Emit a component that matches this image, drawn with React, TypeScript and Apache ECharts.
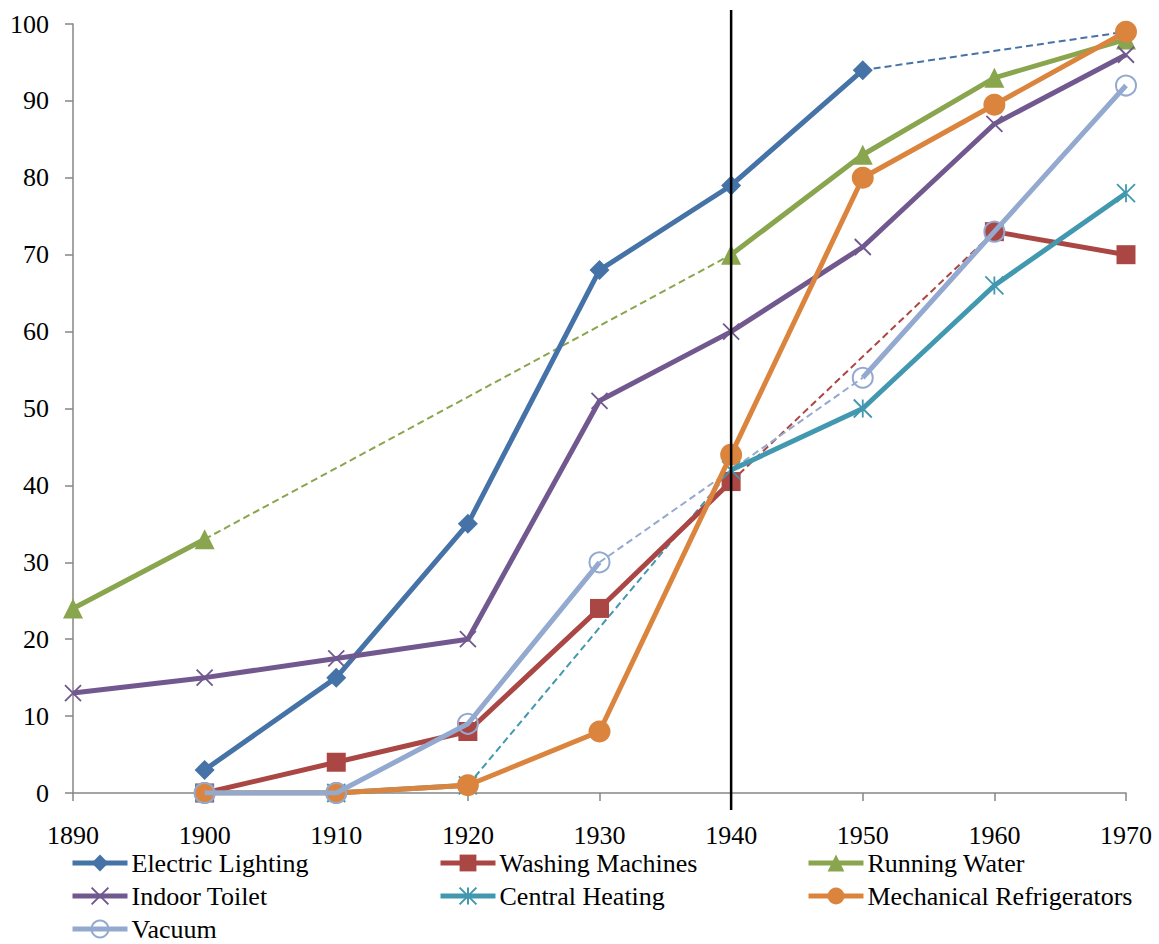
import React, { useEffect, useRef } from "react";
import * as echarts from "echarts";

const years = [1890, 1900, 1910, 1920, 1930, 1940, 1950, 1960, 1970];

const electricLighting = [null, 3, 15, 35, 68, 79, 94, null, 99];
const electricLightingGap = [null, null, null, null, null, null, 94, null, 99];
const washingMachines = [null, 0, 4, 8, 24, 40.5, null, 73, 70];
const washingMachinesGap = [null, null, null, null, null, 40.5, null, 73, null];
const runningWater = [24, 33, null, null, null, 70, 83, 93, 98];
const runningWaterGap = [null, 33, null, null, null, 70, null, null, null];
const indoorToilet = [13, 15, 17.5, 20, 51, 60, 71, 87, 96];
const centralHeating = [null, 0, 0, 1, null, 42, 50, 66, 78];
const centralHeatingGap = [null, null, null, 1, null, 42, null, null, null];
const refrigerators = [null, 0, 0, 1, 8, 44, 80, 89.5, 99];
const vacuum = [null, 0, 0, 9, 30, null, 54, 73, 92];
const vacuumGap = [null, null, null, null, 30, null, 54, null, null];

const yTicks = [0, 10, 20, 30, 40, 50, 60, 70, 80, 90, 100];
const markerYear = 1940;

const FONT = "'Liberation Serif', 'Times New Roman', serif";
const FS = 26;

const pairs = (vals: (number | null)[]) => years.map((y, i) => [y, vals[i]]);

const CROSS = "path://M0,0L10,10M10,0L0,10";
const STAR = "path://M5,0L5,10M0,0L10,10M10,0L0,10";

type Def = {
  name: string;
  data: (number | null)[];
  gap?: (number | null)[];
  color: string;
  symbol: string;
  size: number;
  hollow?: boolean;
  stroke?: boolean;
};

const defs: Def[] = [
  { name: "Electric Lighting", data: electricLighting, gap: electricLightingGap, color: "#4572A7", symbol: "diamond", size: 20 },
  { name: "Washing Machines", data: washingMachines, gap: washingMachinesGap, color: "#AA4643", symbol: "rect", size: 19 },
  { name: "Running Water", data: runningWater, gap: runningWaterGap, color: "#89A54E", symbol: "triangle", size: 20 },
  { name: "Indoor Toilet", data: indoorToilet, color: "#71588F", symbol: CROSS, size: 16, stroke: true },
  { name: "Central Heating", data: centralHeating, gap: centralHeatingGap, color: "#4198AF", symbol: STAR, size: 18, stroke: true },
  { name: "Mechanical Refrigerators", data: refrigerators, color: "#DB843D", symbol: "circle", size: 22 },
  { name: "Vacuum", data: vacuum, gap: vacuumGap, color: "#93A9CF", symbol: "circle", size: 20, hollow: true },
];

export default function App() {
  const ref = useRef<HTMLDivElement>(null);
  useEffect(() => {
    if (!ref.current) return;
    const chart = echarts.init(ref.current, undefined, { renderer: "svg" });
    const series: any[] = [];
    defs.forEach((d) => {
      if (d.gap) {
        series.push({
          name: d.name + " (gap)",
          type: "line",
          data: pairs(d.gap),
          connectNulls: true,
          showSymbol: false,
          symbol: "none",
          silent: true,
          lineStyle: { color: d.color, width: 2, type: [7, 4] },
          itemStyle: { color: d.color },
          z: 2,
        });
      }
    });
    defs.forEach((d, i) => {
      let itemStyle: any;
      if (d.hollow) {
        itemStyle = { color: "rgba(255,255,255,0)", borderColor: d.color, borderWidth: 2 };
      } else if (d.stroke) {
        itemStyle = { color: d.color, borderColor: d.color, borderWidth: 1.8 };
      } else {
        itemStyle = { color: d.color, borderColor: d.color, borderWidth: 0 };
      }
      series.push({
        name: d.name,
        type: "line",
        data: pairs(d.data),
        connectNulls: false,
        symbol: d.symbol,
        symbolSize: d.size,
        showAllSymbol: true,
        lineStyle: { color: d.color, width: 5 },
        itemStyle,
        z: 3 + i,
      });
    });
    series.push({
      name: "marker",
      type: "custom",
      data: [[markerYear, 0]],
      clip: false,
      silent: true,
      z: 20,
      renderItem: (_p: any, api: any) => {
        const top = api.coord([markerYear, 100]);
        const bot = api.coord([markerYear, 0]);
        return {
          type: "line",
          shape: { x1: top[0], y1: top[1] - 14, x2: bot[0], y2: bot[1] + 17 },
          style: { stroke: "#000000", lineWidth: 2.5 },
        };
      },
    });

    const legendPos = [
      { left: 70, top: 850 },
      { left: 438, top: 850 },
      { left: 806, top: 850 },
      { left: 70, top: 883 },
      { left: 438, top: 883 },
      { left: 806, top: 883 },
      { left: 70, top: 916 },
    ];
    const legend = defs.map((d, i) => ({
      data: [d.name],
      left: legendPos[i].left,
      top: legendPos[i].top,
      orient: "horizontal",
      itemWidth: 55,
      itemHeight: 21,
      padding: 0,
      selectedMode: false,
      lineStyle: { width: 5 },
      textStyle: { fontFamily: FONT, fontSize: FS, color: "#000000", padding: [0, 0, 0, -1] },
    }));

    chart.setOption({
      animation: false,
      backgroundColor: "#ffffff",
      textStyle: { fontFamily: FONT },
      grid: { left: 73, right: 33, top: 24, bottom: 151, containLabel: false },
      legend,
      xAxis: {
        type: "value",
        min: years[0],
        max: years[years.length - 1],
        interval: 10,
        splitLine: { show: false },
        axisLine: { show: true, onZero: false, lineStyle: { color: "#868686", width: 1.5 } },
        axisTick: { show: true, length: 8, lineStyle: { color: "#868686", width: 1.5 } },
        axisLabel: {
          fontFamily: FONT,
          fontSize: FS,
          color: "#000000",
          margin: 29,
          formatter: (v: number) => String(v),
        },
      },
      yAxis: {
        type: "value",
        min: yTicks[0],
        max: yTicks[yTicks.length - 1],
        interval: 10,
        splitLine: { show: false },
        axisLine: { show: true, lineStyle: { color: "#868686", width: 1.5 } },
        axisTick: { show: true, length: 8, lineStyle: { color: "#868686", width: 1.5 } },
        axisLabel: {
          fontFamily: FONT,
          fontSize: FS,
          color: "#000000",
          margin: 24,
          formatter: (v: number) => String(v),
        },
      },
      series,
    });
    return () => chart.dispose();
  }, []);
  return (
    <div
      ref={ref}
      style={{ position: "fixed", left: 0, top: 0, width: 1159, height: 944, background: "#fff" }}
    />
  );
}
